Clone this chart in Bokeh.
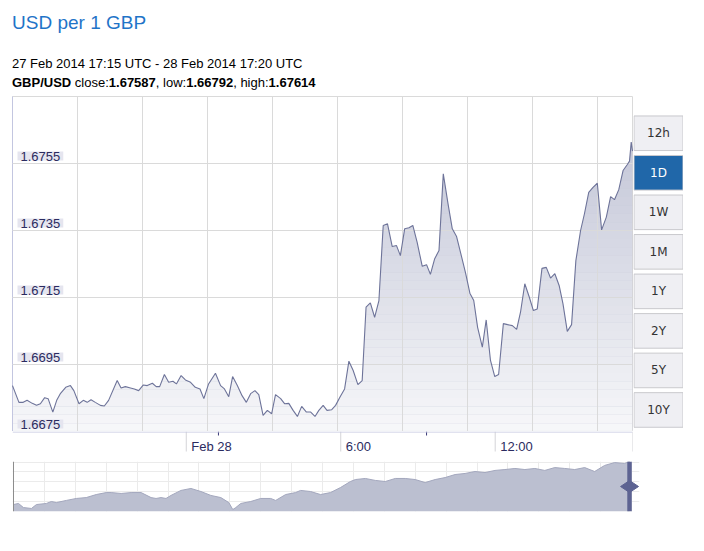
import numpy as np
from bokeh.plotting import figure
from bokeh.models import Range1d, FixedTicker, Label, Span, Div
from bokeh.layouts import column, row
from bokeh.core.properties import value
from bokeh.embed import file_html
from bokeh.resources import INLINE

# ---------------- data ----------------
title_text = "USD per 1 GBP"
period_text = "27 Feb 2014 17:15 UTC - 28 Feb 2014 17:20 UTC"
pair_name = "GBP/USD"
close_value = "1.67587"
low_value = "1.66792"
high_value = "1.67614"

# minutes after 27 Feb 2014 17:15 UTC
minutes = [0, 15, 25, 34, 46, 56, 65, 75, 83, 94,
           103, 112, 124, 135, 143, 155, 165, 174, 183, 193,
           205, 214, 224, 244, 253, 263, 275, 284, 294, 305,
           314, 326, 335, 343, 354, 364, 374, 382, 393, 403,
           415, 426, 437, 446, 457, 473, 485, 494, 504, 513,
           524, 535, 545, 555, 565, 574, 584, 594, 604, 613,
           625, 634, 644, 654, 664, 674, 685, 695, 705, 714,
           724, 733, 744, 753, 763, 774, 784, 794, 805, 815,
           824, 834, 844, 854, 864, 874, 885, 895, 904, 914,
           924, 933, 943, 955, 965, 974, 984, 994, 1004, 1015,
           1025, 1035, 1046, 1056, 1066, 1075, 1084, 1095, 1104, 1114,
           1124, 1133, 1144, 1154, 1165, 1175, 1184, 1194, 1204, 1214,
           1223, 1234, 1244, 1254, 1264, 1274, 1283, 1293, 1303, 1313,
           1324, 1333, 1343, 1353, 1363, 1373, 1384, 1394, 1403, 1413,
           1423, 1433, 1438, 1442, 1445]
rates = [1.66887, 1.66837, 1.66837, 1.66843, 1.66834, 1.66828, 1.66833, 1.66851, 1.66848, 1.66808,
         1.66843, 1.66864, 1.66882, 1.66887, 1.66872, 1.66833, 1.66843, 1.66837, 1.66845, 1.66837,
         1.66828, 1.66826, 1.66843, 1.66902, 1.66880, 1.66884, 1.66880, 1.66877, 1.66872, 1.66889,
         1.66887, 1.66894, 1.66884, 1.66884, 1.66920, 1.66897, 1.66900, 1.66892, 1.66917, 1.66904,
         1.66897, 1.66882, 1.66877, 1.66848, 1.66892, 1.66924, 1.66887, 1.66877, 1.66854, 1.66914,
         1.66887, 1.66857, 1.66837, 1.66863, 1.66872, 1.66860, 1.66798, 1.66813, 1.66803, 1.66860,
         1.66848, 1.66833, 1.66834, 1.66813, 1.66795, 1.66825, 1.66808, 1.66808, 1.66795, 1.66813,
         1.66828, 1.66813, 1.66815, 1.66828, 1.66852, 1.66877, 1.66960, 1.66932, 1.66890, 1.66902,
         1.67121, 1.67134, 1.67091, 1.67141, 1.67365, 1.67370, 1.67302, 1.67305, 1.67275, 1.67355,
         1.67358, 1.67365, 1.67315, 1.67243, 1.67248, 1.67219, 1.67266, 1.67290, 1.67519, 1.67430,
         1.67355, 1.67332, 1.67275, 1.67223, 1.67163, 1.67141, 1.67061, 1.67002, 1.67083, 1.66962,
         1.66914, 1.66920, 1.67072, 1.67069, 1.67066, 1.67055, 1.67106, 1.67191, 1.67153, 1.67111,
         1.67116, 1.67237, 1.67240, 1.67208, 1.67221, 1.67186, 1.67131, 1.67049, 1.67069, 1.67260,
         1.67350, 1.67400, 1.67464, 1.67479, 1.67491, 1.67352, 1.67390, 1.67451, 1.67442, 1.67472,
         1.67529, 1.67547, 1.67557, 1.67614, 1.67587]

ytick_values = [1.6675, 1.6695, 1.6715, 1.6735, 1.6755]
y_top = 1.6775
xtick_minutes = [405, 765, 1125]
xtick_labels = ["Feb 28", "6:00", "12:00"]
minor_tick_minutes = [480, 965]
grid_step_minutes = 151.5

range_buttons = ["12h", "1D", "1W", "1M", "1Y", "2Y", "5Y", "10Y"]
selected_button = "1D"

# navigator (longer history)
nav_days = [0, 0.25, 0.5, 0.9, 1.15, 1.65, 1.9, 2.15, 2.65, 3.15,
            3.65, 4.15, 4.65, 4.9, 5.4, 5.9, 6.4, 6.9, 7.15, 7.4,
            7.65, 7.9, 8.4, 8.9, 9.4, 9.9, 10.4, 10.8, 11.0, 11.15,
            11.4, 11.9, 12.4, 12.9, 13.15, 13.65, 14.15, 14.4, 14.9, 15.4,
            15.9, 16.4, 16.9, 17.15, 17.65, 18.15, 18.65, 19.15, 19.65, 20.15,
            20.65, 21.15, 21.65, 22.15, 22.65, 23.15, 23.65, 24.15, 24.65, 25.15,
            25.65, 26.15, 26.65, 27.15, 27.65, 28.15, 28.65, 29.15, 29.65, 30.15,
            30.65, 30.9]
nav_rates = [1.6539, 1.6545, 1.6522, 1.6517, 1.6539, 1.6545, 1.6556, 1.6550, 1.6562, 1.6573,
             1.6578, 1.6595, 1.6606, 1.6606, 1.6601, 1.6606, 1.6606, 1.6578, 1.6573, 1.6578,
             1.6573, 1.6590, 1.6618, 1.6629, 1.6612, 1.6590, 1.6578, 1.6550, 1.6511, 1.6522,
             1.6545, 1.6556, 1.6573, 1.6573, 1.6562, 1.6595, 1.6606, 1.6618, 1.6612, 1.6595,
             1.6606, 1.6634, 1.6668, 1.6679, 1.6685, 1.6674, 1.6668, 1.6685, 1.6685, 1.6679,
             1.6662, 1.6679, 1.6690, 1.6707, 1.6713, 1.6724, 1.6718, 1.6730, 1.6735, 1.6741,
             1.6735, 1.6741, 1.6730, 1.6746, 1.6741, 1.6735, 1.6746, 1.6724, 1.6758, 1.6774,
             1.6769, 1.6780]
nav_y_range = (1.650, 1.678)
nav_grid_rates = [1.6556, 1.6612, 1.6668, 1.6724, 1.6776]
nav_grid_step_days = 1.55

# ---------------- styles ----------------
FONT = "Liberation Sans"
LABEL_COLOR = "#2b2b60"
AXIS_COLOR = "#c3c6e0"
GRID_COLOR = "#dadada"

# ---------------- header ----------------
header_html = (
    f'<div style="font-family:\'Liberation Sans\',Arial,sans-serif;padding:12px 0 0 12px;margin:0;">'
    f'<div style="font-size:19px;line-height:21px;color:#1f74c8;margin:0;">{title_text}</div>'
    f'<div style="font-size:13px;line-height:19px;color:#000;margin:21px 0 0 0;">{period_text}</div>'
    f'<div style="font-size:13px;line-height:19px;color:#000;margin:0;"><b>{pair_name}</b> close:<b>{close_value}</b>, '
    f'low:<b>{low_value}</b>, high:<b>{high_value}</b></div></div>'
)
header = Div(text=header_html, width=628, height=92, margin=(0, 0, 0, 0))

# ---------------- main chart ----------------
p = figure(width=633, height=339,
           x_range=Range1d(minutes[0], minutes[-1]),
           y_range=Range1d(ytick_values[0], y_top),
           output_backend="svg", toolbar_location=None,
           min_border_left=12, min_border_right=1, min_border_top=4, min_border_bottom=0,
           background_fill_color="white", border_fill_color="white",
           outline_line_color=GRID_COLOR, margin=(0, 0, 0, 0))

# area with vertical gradient (area colour faded by white bands from the bottom)
area_alpha = 0.63
p.varea(x=minutes, y1=ytick_values[0], y2=rates, fill_color="#969bb9", fill_alpha=area_alpha)
n_bands = 40
levels = np.linspace(ytick_values[0], y_top, n_bands + 1)
centers = (levels[:-1] + levels[1:]) / 2
frac = (centers - ytick_values[0]) / (y_top - ytick_values[0])
target = 0.08 + 0.55 * frac
white_alpha = np.clip(1 - target / area_alpha, 0, 1)
p.quad(left=minutes[0], right=minutes[-1], bottom=levels[:-1], top=levels[1:],
       fill_color="white", fill_alpha=white_alpha, line_color=None)

p.line(minutes, rates, line_color="#6d7399", line_width=1.1, level="overlay")

p.xgrid.ticker = FixedTicker(ticks=[grid_step_minutes * k for k in range(1, 10)])
p.ygrid.ticker = FixedTicker(ticks=ytick_values[1:])
p.grid.grid_line_color = GRID_COLOR
p.grid.level = "guide"

p.xaxis.visible = False
ya = p.yaxis[0]
ya.ticker = FixedTicker(ticks=[])
ya.axis_line_color = AXIS_COLOR
ya.major_tick_out = 0
ya.major_tick_in = 0
ya.minor_tick_out = 0
ya.minor_tick_in = 0
ya.major_label_standoff = 0

for v in ytick_values:
    p.add_layout(Label(x=minutes[0], y=v, x_offset=5, y_offset=3, text=f"{v:.4f}",
                       text_baseline="bottom", text_align="left",
                       text_font=FONT, text_font_size="13px", text_color=LABEL_COLOR,
                       background_fill_color="#e5e5ef",
                       padding=dict(left=3, right=3, top=0, bottom=0)))

# ---------------- x axis strip (ticks + labels) ----------------
ax = figure(width=633, height=30, x_range=p.x_range, y_range=Range1d(30, 0),
            output_backend="svg", toolbar_location=None,
            min_border_left=12, min_border_right=1, min_border_top=0, min_border_bottom=0,
            background_fill_color="white", border_fill_color="white",
            outline_line_color=None, margin=(0, 0, 0, 0))
ax.axis.visible = False
ax.grid.visible = False
sep_ticks = xtick_minutes + [minutes[-1]]
ax.segment(x0=sep_ticks, y0=0, x1=sep_ticks, y1=20, line_color="#d4d4d8", line_width=1)
ax.segment(x0=minor_tick_minutes, y0=0, x1=minor_tick_minutes, y1=4, line_color="#3a3a78", line_width=1)
ax.segment(x0=[minutes[0]], y0=0.5, x1=[minutes[-1]], y1=0.5, line_color=AXIS_COLOR, line_width=1)
ax.text(x=xtick_minutes, y=14.5, text=xtick_labels, x_offset=5,
        text_font=value(FONT), text_font_size="13px", text_color=LABEL_COLOR,
        text_align="left", text_baseline="alphabetic")

# ---------------- range buttons ----------------
b = figure(width=50, height=339, x_range=Range1d(0, 50), y_range=Range1d(339, 0),
           output_backend="svg", toolbar_location=None, min_border=0,
           background_fill_color="white", border_fill_color="white",
           outline_line_color=None, margin=(0, 0, 0, 0))
b.axis.visible = False
b.grid.visible = False
btn_top = np.array([19.7 + 40 * i for i in range(len(range_buttons))])
btn_fill = ["#2067a9" if r == selected_button else "#efeff3" for r in range_buttons]
btn_text = ["#ffffff" if r == selected_button else "#333333" for r in range_buttons]
b.quad(left=0.5, right=49.5, top=btn_top, bottom=btn_top + 35,
       fill_color=btn_fill, line_color="#c9c9cd", line_width=1)
b.text(x=25, y=btn_top + 17.5, text=range_buttons, text_color=btn_text,
       text_font=value("DejaVu Sans"), text_font_size="12px",
       text_align="center", text_baseline="middle")

# ---------------- navigator ----------------
nv = figure(width=640, height=54,
            x_range=Range1d(-0.05, 31.4), y_range=Range1d(*nav_y_range),
            output_backend="svg", toolbar_location=None,
            min_border_left=11, min_border_right=0, min_border_top=0, min_border_bottom=4,
            background_fill_color="white", border_fill_color="white",
            outline_line_color=None, margin=(0, 0, 0, 0))
nv.axis.visible = False
nv.xgrid.ticker = FixedTicker(ticks=[nav_grid_step_days * k for k in range(1, 21)])
nv.ygrid.ticker = FixedTicker(ticks=nav_grid_rates)
nv.grid.grid_line_color = "#ebebeb"
nv.varea(x=nav_days, y1=nav_y_range[0], y2=nav_rates, fill_color="#bbbfd0", fill_alpha=1)
nv.line(nav_days, nav_rates, line_color="#a3a7bd", line_width=1)
nv.add_layout(Span(location=nav_days[0], dimension="height", line_color="#8c8c8c", line_width=1))
nv.add_layout(Span(location=nav_days[-1], dimension="height", line_color="#5d6392", line_width=4.5))
nv.scatter(x=[nav_days[-1]], y=[(nav_y_range[0] + nav_y_range[1]) / 2], marker="diamond",
           size=18, angle=np.pi / 2, fill_color="#5d6392", line_color="#5d6392")

layout = column(header, row(p, b, spacing=0), ax, nv, spacing=0)

open("out.html", "w").write(file_html(layout, INLINE))
